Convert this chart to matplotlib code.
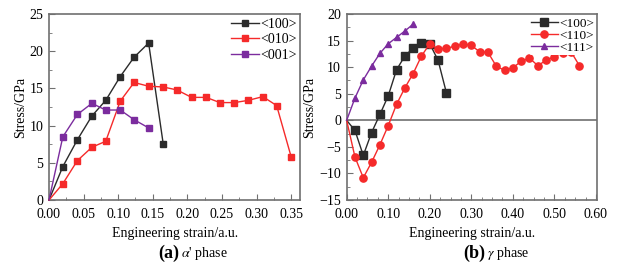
import matplotlib
matplotlib.use("Agg")
import matplotlib.pyplot as plt
from matplotlib.ticker import MultipleLocator

plt.rcParams["font.family"] = ["Liberation Serif", "DejaVu Serif"]
plt.rcParams["mathtext.fontset"] = "stix"

# (a) alpha' phase
A_X100 = [0.0, 0.020, 0.041, 0.062, 0.082, 0.103, 0.123, 0.144, 0.165]
A_Y100 = [0.0, 4.5, 8.1, 11.3, 13.4, 16.6, 19.2, 21.1, 7.6]
A_X010 = [0.0, 0.020, 0.041, 0.062, 0.082, 0.103, 0.123, 0.144, 0.165, 0.185,
          0.206, 0.227, 0.247, 0.268, 0.288, 0.309, 0.329, 0.350]
A_Y010 = [0.0, 2.2, 5.3, 7.1, 7.9, 13.3, 15.8, 15.3, 15.2, 14.8,
          13.8, 13.8, 13.1, 13.1, 13.4, 13.9, 12.7, 5.8]
A_X001 = [0.0, 0.020, 0.041, 0.062, 0.082, 0.103, 0.123, 0.144]
A_Y001 = [0.0, 8.5, 11.5, 13.0, 12.1, 12.1, 10.8, 9.7]

# (b) gamma phase
B_X100 = [0.0, 0.02, 0.04, 0.06, 0.08, 0.10, 0.12, 0.14, 0.16, 0.18, 0.20, 0.22, 0.24]
B_Y100 = [0.0, -1.9, -6.6, -2.3, 1.1, 4.6, 9.5, 12.1, 13.6, 14.6, 14.4, 11.3, 5.2]
B_X110 = [0.0, 0.02, 0.04, 0.06, 0.08, 0.10, 0.12, 0.14, 0.16, 0.18, 0.20,
          0.22, 0.24, 0.26, 0.28, 0.30, 0.32, 0.34, 0.36, 0.38, 0.40,
          0.42, 0.44, 0.46, 0.48, 0.50, 0.52, 0.54, 0.56]
B_Y110 = [0.0, -6.9, -10.8, -7.9, -4.6, -1.0, 3.0, 6.1, 8.8, 12.1, 14.4,
          13.4, 13.6, 13.9, 14.4, 14.1, 12.9, 12.8, 10.2, 9.4, 9.9,
          11.1, 11.7, 10.3, 11.3, 12.0, 12.7, 12.9, 10.3]
B_X111 = [0.0, 0.02, 0.04, 0.06, 0.08, 0.10, 0.12, 0.14, 0.16]
B_Y111 = [0.0, 4.2, 7.6, 10.2, 12.6, 14.4, 15.6, 16.8, 18.1]

BLACK = "#2b2b2b"
RED = "#f52a2a"
PURPLE = "#7b2c9e"
SPINE = "#707070"

fig = plt.figure(figsize=(6.28, 2.70), dpi=100)
ax1 = fig.add_axes([0.078, 0.259, 0.400, 0.689])
ax2 = fig.add_axes([0.552, 0.259, 0.399, 0.689])


def series(ax, x, y, color, marker, label, ms=5.0):
    ax.plot(x, y, color=color, lw=1.0, marker=marker, ms=ms,
            markevery=slice(1, None), label=label, clip_on=False, zorder=3)


def style(ax, fs, spacing):
    for s in ax.spines.values():
        s.set_color(SPINE)
        s.set_linewidth(1.2)
    ax.tick_params(direction="in", which="both", top=False, right=False,
                   labelsize=10, color=SPINE)
    ax.tick_params(axis="x", pad=6)
    ax.tick_params(axis="y", pad=4)
    ax.tick_params(which="major", length=4)
    ax.tick_params(which="minor", length=2)
    ax.set_xlabel("Engineering strain/a.u.", fontsize=10, labelpad=4)
    ax.set_ylabel("Stress/GPa", fontsize=10, labelpad=2)
    leg = ax.legend(loc="upper right", frameon=True, fontsize=fs,
                    handlelength=2.0, handletextpad=0.1, borderaxespad=0.1,
                    labelspacing=spacing, borderpad=0.15)
    leg.get_frame().set_linewidth(0)
    leg.get_frame().set_facecolor("white")
    leg.get_frame().set_alpha(1)


series(ax1, A_X100, A_Y100, BLACK, "s", "<100>")
series(ax1, A_X010, A_Y010, RED, "s", "<010>")
series(ax1, A_X001, A_Y001, PURPLE, "s", "<001>")
ax1.set_xlim(0, 0.363)
ax1.set_ylim(0, 25)
ax1.xaxis.set_major_locator(MultipleLocator(0.05))
ax1.xaxis.set_minor_locator(MultipleLocator(0.025))
ax1.yaxis.set_major_locator(MultipleLocator(5))
ax1.yaxis.set_minor_locator(MultipleLocator(2.5))
ax1.xaxis.set_major_formatter(lambda v, p: f"{v:.2f}")
style(ax1, 10, 0.2)

ax2.axhline(0, color=SPINE, lw=1.2, zorder=1)
series(ax2, B_X100, B_Y100, BLACK, "s", "<100>", ms=5.5)
series(ax2, B_X110, B_Y110, RED, "o", "<110>", ms=5.2)
series(ax2, B_X111, B_Y111, PURPLE, "^", "<111>", ms=4.8)
ax2.set_xlim(0, 0.603)
ax2.set_ylim(-15, 20)
ax2.xaxis.set_major_locator(MultipleLocator(0.1))
ax2.xaxis.set_minor_locator(MultipleLocator(0.025))
ax2.yaxis.set_major_locator(MultipleLocator(5))
ax2.yaxis.set_minor_locator(MultipleLocator(2.5))
ax2.xaxis.set_major_formatter(lambda v, p: f"{v:.2f}")
style(ax2, 9.5, -0.02)

fig.text(0.285, 0.062, "(a)", fontsize=13, fontweight="bold", ha="right", va="center")
fig.text(0.289, 0.060, r"$\alpha$' phase", fontsize=10, ha="left", va="center")
fig.text(0.772, 0.062, "(b)", fontsize=13, fontweight="bold", ha="right", va="center")
fig.text(0.776, 0.060, r"$\gamma$ phase", fontsize=10, ha="left", va="center")

fig.savefig("out.png", dpi=100)
